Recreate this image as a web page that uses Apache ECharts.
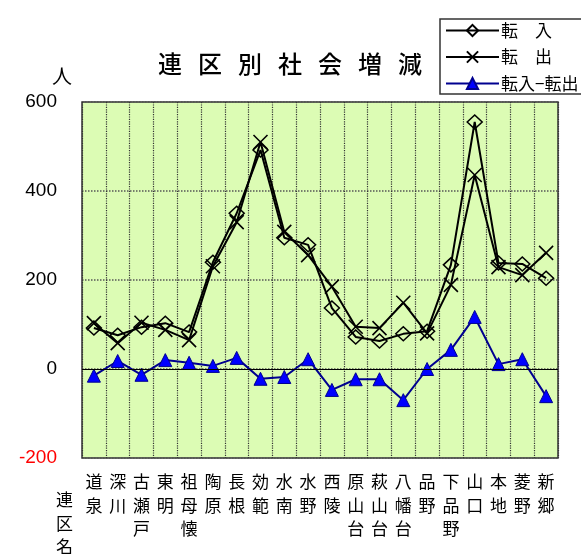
<!DOCTYPE html>
<html>
<head>
<meta charset="utf-8">
<script src="https://cdn.jsdelivr.net/npm/echarts@6/dist/echarts.min.js"></script>
<style>
html, body { margin: 0; padding: 0; background: #fff; }
#chart { width: 581px; height: 554px; }
</style>
</head>
<body>
<div id="chart"></div>
<script>
// 連区名
var districts = ['道泉', '深川', '古瀬戸', '東明', '祖母懐', '陶原', '長根', '効範', '水南', '水野',
    '西陵', '原山台', '萩山台', '八幡台', '品野', '下品野', '山口', '本地', '菱野', '新郷'];
// 転入
var tennyu = [92, 76, 94, 103, 83, 240, 350, 492, 295, 279,
    137, 72, 63, 79, 85, 234, 555, 238, 236, 204];
// 転出
var tenshutsu = [103, 58, 104, 88, 65, 231, 330, 510, 308, 256,
    185, 95, 92, 149, 80, 189, 436, 229, 211, 261];
// 転入-転出
var sagaku = [-15, 18, -13, 20, 14, 7, 25, -22, -18, 22,
    -47, -23, -23, -70, 0, 43, 117, 11, 22, -61];

var titleText = '連区別社会増減';

var numFont = 'Liberation Sans, Arial, sans-serif';
var jpFont = 'Noto Sans CJK JP, sans-serif';

var mychart = echarts.init(document.getElementById('chart'));
var option = {
    animation: false,
    title: {
        // 文字間を広げる
        text: titleText.split('').map(function (c) { return '{c|' + c + '}'; }).join('{s|}'),
        left: 153,
        top: 47,
        textStyle: {
            rich: {
                c: { color: '#000', fontFamily: jpFont, fontSize: 24, fontWeight: 500 },
                s: { width: 16 }
            }
        }
    },
    legend: {
        orient: 'vertical',
        left: 440,
        top: 19,
        padding: [3, 8, 2, 5],
        itemWidth: 53,
        itemHeight: 14,
        itemGap: 9.5,
        borderColor: '#333',
        borderWidth: 1.5,
        backgroundColor: '#fff',
        data: ['転　入', '転　出', '転入−転出'],
        textStyle: {
            color: '#000',
            fontFamily: jpFont,
            fontSize: 17,
            padding: [0, 0, 0, -3]
        }
    },
    graphic: [
        {
            type: 'text',
            left: 52,
            top: 66,
            style: { text: '人', fontFamily: jpFont, fontSize: 20, fill: '#000' }
        },
        {
            type: 'text',
            left: 56,
            top: 488,
            style: { text: '連\n区\n名', fontFamily: jpFont, fontSize: 17, lineHeight: 23.5, fill: '#000' }
        }
    ],
    grid: {
        left: 82,
        right: 23,
        top: 102,
        bottom: 96,
        show: true,
        backgroundColor: '#dcfcb4',
        borderColor: '#333',
        borderWidth: 1.5
    },
    xAxis: {
        type: 'category',
        data: districts,
        axisLine: { show: false },
        axisTick: { show: false },
        splitLine: {
            show: true,
            lineStyle: { color: '#333', type: 'dotted', width: 1.2 }
        },
        axisLabel: {
            interval: 0,
            margin: 12,
            verticalAlign: 'top',
            color: '#000',
            fontFamily: jpFont,
            fontSize: 17,
            lineHeight: 23.5,
            formatter: function (v) { return v.split('').join('\n'); }
        }
    },
    yAxis: {
        type: 'value',
        min: -200,
        max: 600,
        interval: 200,
        axisLine: { show: false },
        axisTick: { show: false },
        splitLine: {
            lineStyle: { color: '#555', type: 'dotted', width: 1.5 }
        },
        axisLabel: {
            margin: 25,
            fontFamily: numFont,
            fontSize: 19,
            color: function (v) { return Number(v) < 0 ? '#ff0000' : '#000'; }
        }
    },
    series: [
        {
            name: '転　入',
            type: 'line',
            data: tennyu,
            symbol: 'diamond',
            symbolSize: [15, 14],
            lineStyle: { color: '#000', width: 2 },
            itemStyle: { color: 'rgba(0,0,0,0)', borderColor: '#000', borderWidth: 1.5 },
            z: 3,
            markLine: {
                silent: true,
                symbol: 'none',
                label: { show: false },
                lineStyle: { color: '#000', type: 'solid', width: 1.2 },
                data: [{ yAxis: 0 }]
            }
        },
        {
            name: '転　出',
            type: 'line',
            data: tenshutsu,
            symbol: 'path://M0,0L10,10M10,0L0,10',
            symbolSize: 14,
            lineStyle: { color: '#000', width: 2 },
            itemStyle: { color: 'rgba(0,0,0,0)', borderColor: '#000', borderWidth: 1.6 },
            z: 3
        },
        {
            name: '転入−転出',
            type: 'line',
            data: sagaku,
            symbol: 'triangle',
            symbolSize: 13,
            lineStyle: { color: '#000090', width: 2 },
            itemStyle: { color: '#0000ff', borderColor: '#000090', borderWidth: 1 },
            z: 4
        }
    ]
};
mychart.setOption(option);
</script>
</body>
</html>
